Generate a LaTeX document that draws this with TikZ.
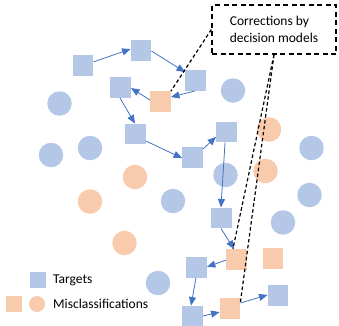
\documentclass[tikz,border=0pt]{standalone}
\usepackage{fontspec}
\setmainfont{Carlito}
\usetikzlibrary{arrows.meta}
\definecolor{tblue}{HTML}{B4C7E7}
\definecolor{morange}{HTML}{F8CBAD}
\definecolor{flow}{HTML}{4472C4}

\begin{document}
\begin{tikzpicture}[x=1pt,y=-1pt,
  tgt/.style={rectangle, fill=tblue, minimum size=20.5pt, inner sep=0},
  mis/.style={rectangle, fill=morange, minimum size=20.5pt, inner sep=0},
  bdot/.style={circle, fill=tblue, minimum size=24.5pt, inner sep=0},
  odot/.style={circle, fill=morange, minimum size=24.5pt, inner sep=0},
  flowarrow/.style={draw=flow, line width=0.8pt, -{Triangle[length=8.5pt,width=7pt]}},
  callline/.style={draw=black, line width=1.2pt, dash pattern=on 3.5pt off 2.5pt},
  lbl/.style={font=\fontsize{13.5}{17}\selectfont, inner sep=0}
]
\useasboundingbox (0,0) rectangle (339,325);

% scattered samples
\node[bdot] (c1) at (59.5,103.5) {};
\node[bdot] (c2) at (51,155) {};
\node[bdot] (c3) at (90,148) {};
\node[bdot] (c4) at (233,90.5) {};
\node[bdot] (c5) at (225.5,175) {};
\node[bdot] (c6) at (173,201) {};
\node[bdot] (c7) at (311.5,148) {};
\node[bdot] (c8) at (309.5,195) {};
\node[bdot] (c9) at (283,222.5) {};
\node[bdot] (c10) at (158,283) {};

\node[odot] (m1) at (269,129.5) {};
\node[odot] (m2) at (265.5,171) {};
\node[odot] (m3) at (135,177) {};
\node[odot] (m4) at (90,201.5) {};
\node[odot] (m5) at (124.5,243) {};

% decision path
\node[tgt] (s1) at (83,65.5) {};
\node[tgt] (s2) at (141,50.5) {};
\node[tgt] (s3) at (120.5,87.5) {};
\node[mis] (o1) at (160.5,101.5) {};
\node[tgt] (s4) at (135.5,134) {};
\node[tgt] (s5) at (195.5,80.5) {};
\node[tgt] (s6) at (192.5,157.5) {};
\node[tgt] (s7) at (226.5,132) {};
\node[tgt] (s8) at (221.5,218) {};
\node[mis] (o2) at (236.5,259.5) {};
\node[mis] (o3) at (273,258.5) {};
\node[tgt] (s9) at (196.5,267.5) {};
\node[tgt] (s10) at (192.5,316) {};
\node[mis] (o4) at (230,308.5) {};
\node[tgt] (s11) at (278,295.5) {};

\draw[flowarrow] (s1.19) -- (s2.172);
\draw[flowarrow] (s2.-3) -- (s5.141);
\draw[flowarrow] (s5.267) -- (o1.23);
\draw[flowarrow] (o1.172) -- (s3.-3);
\draw[flowarrow] (s3.267) -- (s4.93);
\draw[flowarrow] (s4.-34) -- (s6.183);
\draw[flowarrow] (s6.39) -- (s7.205);
\draw[flowarrow] (s7.262) -- (s8.93);
\draw[flowarrow] (s8.267) -- (o2.103);
\draw[flowarrow] (o2.183) -- (s9.3);
\draw[flowarrow] (s9.267) -- (s10.98);
\draw[flowarrow] (s10.0) -- (o4.199);
\draw[flowarrow] (o4.28) -- (s11.177);

% callout
\node[lbl, draw=black, line width=1.3pt, dash pattern=on 5pt off 3.5pt,
      minimum width=124pt, minimum height=49pt, align=left]
      (call) at (274,29.5) {Corrections by\\decision models};
\draw[callline] (call.west) -- (o1.north east);
\draw[callline] (call.south) -- (o2.109);
\draw[callline] (call.south) -- (o4.32);

% legend
\node[rectangle, fill=tblue, minimum size=16pt, inner sep=0] (ltgt) at (38,280) {};
\node[rectangle, fill=morange, minimum size=16pt, inner sep=0] (lmsq) at (14,304) {};
\node[circle, fill=morange, minimum size=16pt, inner sep=0] (lmdot) at (37,304) {};
\node[lbl, anchor=base west] (ttgt) at (53,283.5) {Targets};
\node[lbl, anchor=base west] (tmis) at (53,308.3) {Misclassifications};
\end{tikzpicture}
\end{document}
